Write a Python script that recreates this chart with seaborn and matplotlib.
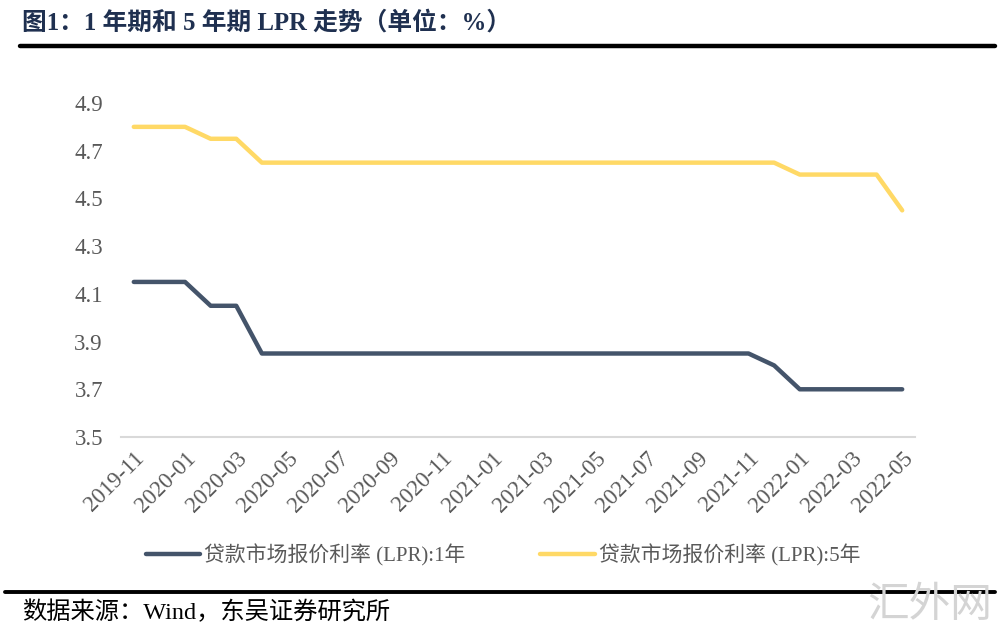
import matplotlib
matplotlib.use('Agg')
import matplotlib.pyplot as plt
import seaborn as sns
import pandas as pd
from matplotlib.lines import Line2D
from matplotlib.ticker import FixedLocator

months = ['2019-11', '2019-12', '2020-01', '2020-02', '2020-03', '2020-04', '2020-05', '2020-06',
          '2020-07', '2020-08', '2020-09', '2020-10', '2020-11', '2020-12', '2021-01', '2021-02',
          '2021-03', '2021-04', '2021-05', '2021-06', '2021-07', '2021-08', '2021-09', '2021-10',
          '2021-11', '2021-12', '2022-01', '2022-02', '2022-03', '2022-04', '2022-05']
lpr_1y = [4.15, 4.15, 4.15, 4.05, 4.05, 3.85, 3.85, 3.85, 3.85, 3.85, 3.85, 3.85, 3.85, 3.85, 3.85, 3.85,
          3.85, 3.85, 3.85, 3.85, 3.85, 3.85, 3.85, 3.85, 3.85, 3.80, 3.70, 3.70, 3.70, 3.70, 3.70]
lpr_5y = [4.80, 4.80, 4.80, 4.75, 4.75, 4.65, 4.65, 4.65, 4.65, 4.65, 4.65, 4.65, 4.65, 4.65, 4.65, 4.65,
          4.65, 4.65, 4.65, 4.65, 4.65, 4.65, 4.65, 4.65, 4.65, 4.65, 4.60, 4.60, 4.60, 4.60, 4.45]
name_1y = '贷款市场报价利率 (LPR):1年'
name_5y = '贷款市场报价利率 (LPR):5年'
y_ticks = [3.5, 3.7, 3.9, 4.1, 4.3, 4.5, 4.7, 4.9]

sns.set_style('white')
plt.rcParams['font.family'] = ['Liberation Serif', 'Noto Sans CJK SC', 'DejaVu Sans']

df = pd.DataFrame({
    'x': list(range(len(months))) * 2,
    'rate': lpr_1y + lpr_5y,
    'series': [name_1y] * len(months) + [name_5y] * len(months),
})

fig = plt.figure(figsize=(10, 6.38), dpi=100)
ax = fig.add_axes([0.121, 1 - 437 / 638, 0.794, (437 - 103) / 638])

colors = {name_1y: '#44546a', name_5y: '#ffd966'}
sns.lineplot(data=df, x='x', y='rate', hue='series', palette=colors, linewidth=3.2, ax=ax, legend=False)

ax.set_xlim(-0.5, len(months) - 0.5)
ax.set_ylim(3.5, 4.9)
ax.set_xlabel('')
ax.set_ylabel('')

ax.set_xticks(range(0, len(months), 2))
ax.set_xticklabels(months[::2], rotation=45, ha='right', rotation_mode='anchor')
ax.xaxis.set_minor_locator(FixedLocator([i - 0.5 for i in range(0, len(months), 2)]))
ax.tick_params(axis='x', which='major', length=0, pad=8, labelsize=16.5, labelcolor='#595959')
ax.tick_params(axis='x', which='minor', length=5, width=1.3, color='#d9d9d9')
ax.set_yticks(y_ticks)
ax.set_yticklabels([f'{v:.1f}' for v in y_ticks])
ax.tick_params(axis='y', length=0, pad=13, labelsize=16.5, labelcolor='#595959')

for s in ['top', 'right', 'left']:
    ax.spines[s].set_visible(False)
ax.spines['bottom'].set_color('#d9d9d9')
ax.spines['bottom'].set_linewidth(1.5)
ax.grid(False)

handles = [Line2D([], [], color=colors[name_1y], linewidth=3.2),
           Line2D([], [], color=colors[name_5y], linewidth=3.2)]
fig.legend(handles, [name_1y, name_5y], loc='center', bbox_to_anchor=(0.503, 1 - 555 / 638),
           ncol=2, frameon=False, fontsize=15, handlelength=2.6, handletextpad=0.2,
           columnspacing=3.6, labelcolor='#595959')

fig.text(0.022, 1 - 23 / 638, '图1：1 年期和 5 年期 LPR 走势（单位：%）', fontsize=17.8, fontweight='bold',
         color='#1f3050', va='center', ha='left')
fig.add_artist(Line2D([0.02, 0.995], [1 - 46 / 638, 1 - 46 / 638], color='black', linewidth=3.2))
fig.add_artist(Line2D([0.005, 0.995], [1 - 592 / 638, 1 - 592 / 638], color='black', linewidth=2.8))
fig.text(0.022, 1 - 612 / 638, '数据来源：Wind，东吴证券研究所', fontsize=17.5, color='black', va='center', ha='left')
fig.text(0.93, 1 - 606 / 638, '汇外网', fontsize=30, color='#d4d4d4', va='center', ha='center',
         family=['Noto Sans CJK SC'])

fig.savefig('out.png', dpi=100)
